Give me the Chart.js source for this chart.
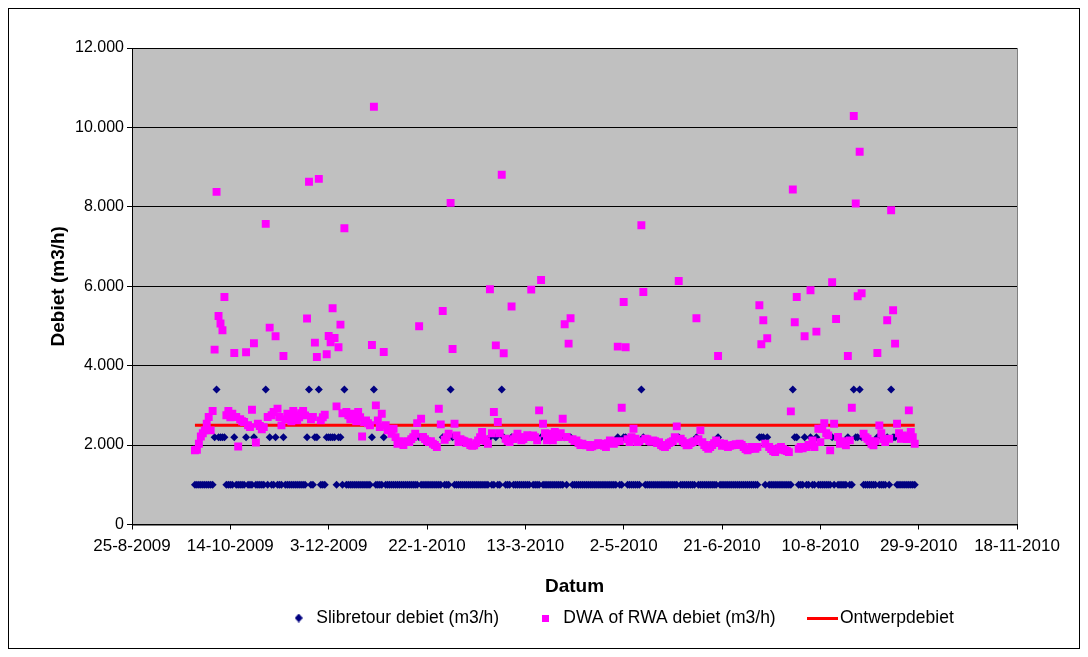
<!DOCTYPE html>
<html>
<head>
<meta charset="utf-8">
<script src="https://cdn.jsdelivr.net/npm/chart.js@4.4.1/dist/chart.umd.min.js"></script>
<style>
  html, body { margin: 0; padding: 0; background: #ffffff; }
  canvas { display: block; }
</style>
</head>
<body>
<canvas id="chart" width="1088" height="657"></canvas>
<script>
// Axis tick labels (dates are d-m-yyyy, values use '.' as thousands separator)
const xTickLabels = ['25-8-2009', '14-10-2009', '3-12-2009', '22-1-2010', '13-3-2010',
                     '2-5-2010', '21-6-2010', '10-8-2010', '29-9-2010', '18-11-2010'];
const yTickLabels = ['0', '2.000', '4.000', '6.000', '8.000', '10.000', '12.000'];

// Daily measurements, one value per day starting at firstDay
const firstDay = '26-9-2009';

const slibretourDebiet = [
  1000, 1000, 1000, 1000, 1000, 1000, 1000, 1000, 1000,
  1000, 2200, 3400, 2200, 2200, 2200, 2200, 1000, 1000, 1000,
  1000, 2200, 1000, 1000, 1000, 1000, 1000, 2200, 1000, 1000,
  1000, 2200, 1000, 1000, 1000, 1000, 1000, 3400, 1000, 2200,
  1000, 1000, 2200, 1000, 1000, 1000, 2200, 1000, 1000, 1000,
  1000, 1000, 1000, 1000, 1000, 1000, 1000, 1000, 2200, 3400,
  1000, 1000, 2200, 2200, 3400, 1000, 1000, 1000, 2200, 2200,
  2200, 2200, 2200, 1000, 2200, 2200, 1000, 3400, 1000, 1000,
  1000, 1000, 1000, 1000, 1000, 1000, 1000, 1000, 1000, 1000,
  1000, 2200, 3400, 1000, 1000, 1000, 1000, 2200, 1000, 1000,
  1000, 1000, 1000, 1000, 1000, 1000, 1000, 1000, 1000, 1000,
  1000, 1000, 1000, 1000, 1000, 2200, 1000, 1000, 1000, 1000,
  1000, 1000, 1000, 1000, 1000, 1000, 1000, 2200, 1000, 1000,
  1000, 3400, 2200, 1000, 1000, 1000, 1000, 1000, 1000, 1000,
  1000, 1000, 1000, 1000, 1000, 1000, 1000, 1000, 1000, 1000,
  1000, 2200, 1000, 1000, 2200, 1000, 1000, 3400, 2200, 1000,
  1000, 1000, 2200, 1000, 1000, 1000, 1000, 1000, 1000, 1000,
  1000, 1000, 2200, 1000, 1000, 1000, 1000, 2200, 1000, 1000,
  1000, 1000, 1000, 1000, 1000, 1000, 1000, 1000, 1000, 2200,
  1000, 2200, 2200, 1000, 1000, 1000, 1000, 1000, 1000, 1000,
  1000, 1000, 1000, 1000, 1000, 1000, 1000, 1000, 1000,
  1000, 1000, 1000, 1000, 1000, 1000, 1000, 2200, 1000, 1000,
  2200, 2200, 1000, 1000, 1000, 1000, 1000, 1000, 1000, 3400,
  2200, 1000, 1000, 1000, 1000, 1000, 1000, 1000, 1000, 1000,
  1000, 1000, 1000, 1000, 1000, 1000, 1000, 1000, 2200, 1000,
  1000, 1000, 1000, 1000, 1000, 1000, 1000, 2200, 1000, 1000,
  1000, 1000, 1000, 1000, 1000, 1000, 1000, 1000, 2200, 1000,
  1000, 1000, 1000, 1000, 1000, 1000, 1000, 1000, 1000, 1000,
  1000, 1000, 1000, 1000, 1000, 1000, 1000, 1000, 1000, 2200,
  2200, 2200, 1000, 2200, 1000, 1000, 1000, 1000, 1000, 1000,
  1000, 1000, 1000, 1000, 1000, 1000, 3400, 2200, 2200, 1000,
  1000, 1000, 2200, 1000, 1000, 2200, 1000, 1000, 2200, 1000,
  1000, 1000, 1000, 1000, 1000, 1000, 2200, 1000, 2200, 1000,
  1000, 1000, 1000, 1000, 2200, 1000, 1000, 3400, 2200, 2200,
  3400, 2200, 1000, 1000, 1000, 1000, 1000, 1000, 1000, 2200,
  1000, 1000, 1000, 1000, 2200, 1000, 3400, 2200, 2200, 1000,
  1000, 1000, 1000, 1000, 1000, 1000, 1000, 1000, 1000
];

const dwaRwaDebiet = [
  1870, 1883, 2034, 2218, 2300, 2370, 2538, 2706, 2370,
  2857, 4404, 8377, 5251, 5060, 4891, 5730, 2750, 2857, 2700,
  2790, 4319, 2706, 1966, 2650, 2600, 2580, 4336, 2500, 2453,
  2891, 4563, 2067, 2538, 2480, 2400, 2453, 7570, 2706, 4959,
  2750, 2832, 4740, 2916, 2706, 2496, 4243, 2650, 2790, 2700,
  2600, 2857, 2750, 2622, 2700, 2800, 2857, 2748, 5186, 8630,
  2650, 2706, 4581, 4218, 8705, 2622, 2700, 2765, 4286, 4748,
  4588, 5445, 4697, 2975, 4462, 5034, 2800, 7462, 2832, 2750,
  2650, 2790, 2700, 2600, 2832, 2700, 2218, 2580, 2622, 2550,
  2500, 4520, 10520, 3000, 2622, 2453, 2790, 4344, 2500, 2370,
  2400, 2286, 2412, 2200, 2034, 2100, 2050, 2000, 2075, 2100,
  2075, 2150, 2200, 2286, 2554, 4992, 2664, 2202, 2150, 2100,
  2075, 2100, 2034, 2000, 1950, 2916, 2521, 5378, 2135, 2200,
  2286, 8100, 4420, 2538, 2244, 2075, 2150, 2118, 2100, 2050,
  2075, 2000, 1980, 1992, 2050, 2118, 2200, 2328, 2150, 2100,
  2034, 5924, 2300, 2832, 4512, 2580, 2300, 8806, 4311, 2160,
  2100, 2075, 5488, 2150, 2200, 2286, 2200, 2118, 2150, 2200,
  2250, 2200, 5916, 2244, 2200, 2118, 2874, 6159, 2538, 2300,
  2118, 2244, 2286, 2118, 2328, 2250, 2200, 2300, 2664, 5042,
  2202, 4555, 5193, 2150, 2100, 2118, 2050, 2000, 2034, 2000,
  1992, 2000, 1950, 1970, 1992, 2000, 2050, 2034, 2000,
  1980, 1950, 2050, 2118, 2100, 2034, 2080, 4480, 2100, 2942,
  5605, 4462, 2150, 2075, 2200, 2412, 2160, 2075, 2100, 7538,
  5857, 2160, 2150, 2100, 2080, 2118, 2100, 2050, 2075, 2000,
  1970, 1950, 2000, 2050, 2075, 2100, 2200, 2471, 6134, 2160,
  2100, 2050, 1992, 2000, 2050, 2075, 2100, 5193, 2150, 2370,
  2075, 2000, 1950, 1908, 1950, 2000, 2050, 2118, 4243, 2050,
  1980, 2034, 1990, 1950, 1980, 1992, 2000, 2020, 2000, 2034,
  2000, 1950, 1900, 1866, 1900, 1950, 1920, 1908, 1950, 5521,
  4538, 5143, 2034, 4689, 1950, 1900, 1850, 1823, 1880, 1920,
  1950, 1900, 1870, 1850, 1823, 2849, 8438, 5093, 5730, 1908,
  1950, 1920, 4740, 1950, 2000, 5899, 2118, 1950, 4858, 2412,
  2075, 2412, 2554, 2300, 2244, 1866, 6101, 2538, 5177, 2202,
  2034, 2100, 2050, 1992, 4243, 2118, 2942, 10286, 8085, 5748,
  9386, 5823, 2286, 2200, 2160, 2100, 2034, 1992, 2100, 4319,
  2496, 2300, 2150, 2075, 5143, 2160, 7916, 5395, 4555, 2538,
  2300, 2160, 2244, 2200, 2150, 2874, 2328, 2200, 2034
];

// Design flow, constant over the measuring period
const ontwerpDates = ['26-9-2009', '27-9-2010'];
const ontwerpDebiet = [2500, 2500];

// Spreadsheet-style day number for a d-m-yyyy string
function daySerial(text) {
  const [d, m, y] = text.split('-').map(Number);
  return Math.round((Date.UTC(y, m - 1, d) - Date.UTC(1899, 11, 30)) / 86400000);
}
function thousands(text) { return Number(text.replace(/\./g, '')); }

const start = daySerial(firstDay);
const slibPoints = slibretourDebiet.map((v, i) => ({ x: start + i, y: v }));
const dwaPoints = dwaRwaDebiet.map((v, i) => ({ x: start + i, y: v }));
const ontwerpPoints = ontwerpDates.map((d, i) => ({ x: daySerial(d), y: ontwerpDebiet[i] }));

const FONT = "'Liberation Sans', Arial, sans-serif";
const LEGEND_FONT_SIZE = 17.5;

// Small legend symbols
function symbol(w, h, paint) {
  const c = document.createElement('canvas');
  c.width = w; c.height = h;
  paint(c.getContext('2d'), w, h);
  return c;
}
const legendSymbols = [
  symbol(8, 9, (g, w, h) => {
    g.fillStyle = '#000080';
    g.beginPath(); g.moveTo(w / 2, 0); g.lineTo(w, h / 2); g.lineTo(w / 2, h); g.lineTo(0, h / 2);
    g.closePath(); g.fill();
  }),
  symbol(7, 7, (g, w, h) => { g.fillStyle = '#FF00FF'; g.fillRect(0, 0, w, h); }),
  symbol(31, 3, (g, w, h) => { g.fillStyle = '#FF0000'; g.fillRect(0, 0, w, h); })
];

const LEGEND_FIRST_BOX = 290;
const LEGEND_TEXT_MIDDLE = 618;

const framePlugin = {
  id: 'frame',
  beforeDraw(chart) {
    const { ctx, chartArea: a } = chart;
    ctx.save();
    ctx.fillStyle = '#ffffff';
    ctx.fillRect(0, 0, chart.width, chart.height);
    ctx.fillStyle = '#C0C0C0';
    ctx.fillRect(a.left, a.top, a.right - a.left, a.bottom - a.top);
    ctx.strokeStyle = '#808080';
    ctx.lineWidth = 1;
    ctx.strokeRect(Math.round(a.left) + 0.5, Math.round(a.top) + 0.5,
                   Math.round(a.right - a.left), Math.round(a.bottom - a.top));
    ctx.strokeStyle = '#000000';
    ctx.strokeRect(8.5, 8.5, chart.width - 17, chart.height - 17);
    ctx.restore();
  },
  afterLayout(chart) {
    const lg = chart.legend;
    if (!lg) return;
    const pad = lg.options.labels.padding;
    lg.left = LEGEND_FIRST_BOX - pad;
    lg.right = chart.width;
    lg.width = lg.right - lg.left;
    const h = lg.height;
    lg.top = LEGEND_TEXT_MIDDLE - pad - LEGEND_FONT_SIZE / 2;
    lg.bottom = lg.top + h;
  }
};

new Chart(document.getElementById('chart'), {
  type: 'scatter',
  data: {
    datasets: [
      {
        label: 'Slibretour debiet (m3/h)',
        data: slibPoints,
        pointStyle: 'rectRot',
        pointRadius: 4,
        backgroundColor: '#000080',
        borderColor: '#000080',
        borderWidth: 0,
        order: 2
      },
      {
        label: 'DWA of RWA debiet (m3/h)',
        data: dwaPoints,
        pointStyle: 'rect',
        pointRadius: 5.6,
        backgroundColor: '#FF00FF',
        borderColor: '#FF00FF',
        borderWidth: 0,
        order: 0
      },
      {
        type: 'line',
        label: 'Ontwerpdebiet',
        data: ontwerpPoints,
        showLine: true,
        borderColor: '#FF0000',
        backgroundColor: '#FF0000',
        borderWidth: 3,
        pointRadius: 0,
        fill: false,
        order: 1
      }
    ]
  },
  options: {
    responsive: false,
    animation: false,
    events: [],
    layout: { padding: { left: 0, right: 71, top: 48, bottom: 10 } },
    scales: {
      x: {
        type: 'linear',
        min: daySerial(xTickLabels[0]),
        max: daySerial(xTickLabels[xTickLabels.length - 1]),
        afterBuildTicks(scale) { scale.ticks = xTickLabels.map(l => ({ value: daySerial(l) })); },
        afterFit(scale) { scale.height = 57; },
        ticks: {
          autoSkip: false, maxRotation: 0, padding: 7,
          color: '#000', font: { family: FONT, size: 17 },
          callback: (v, i) => xTickLabels[i]
        },
        grid: { drawOnChartArea: false, drawTicks: true, tickLength: 5, tickColor: '#000', color: '#000' },
        border: { display: true, color: '#000', width: 1 },
        title: {
          display: true, text: 'Datum', color: '#000',
          font: { family: FONT, size: 19, weight: 'bold' },
          padding: { top: 0, bottom: -17 }
        }
      },
      y: {
        min: 0,
        max: thousands(yTickLabels[yTickLabels.length - 1]),
        afterBuildTicks(scale) { scale.ticks = yTickLabels.map(l => ({ value: thousands(l) })); },
        afterFit(scale) { scale.width = 132; },
        ticks: {
          padding: 3, color: '#000', font: { family: FONT, size: 16 },
          callback: (v, i) => yTickLabels[i]
        },
        grid: { color: '#000', lineWidth: 1, drawTicks: true, tickLength: 5, tickColor: '#000' },
        border: { display: true, color: '#000', width: 1 },
        title: {
          display: true, text: 'Debiet (m3/h)', color: '#000',
          font: { family: FONT, size: 19, weight: 'bold' },
          padding: { top: 47, bottom: 0 }
        }
      }
    },
    plugins: {
      tooltip: { enabled: false },
      legend: {
        display: true,
        position: 'bottom',
        align: 'start',
        labels: {
          usePointStyle: true,
          pointStyleWidth: 17.5,
          padding: 38,
          color: '#000',
          font: { family: FONT, size: LEGEND_FONT_SIZE },
          sort: (a, b) => a.datasetIndex - b.datasetIndex,
          generateLabels(chart) {
            return chart.data.datasets.map((ds, i) => ({
              text: ds.label,
              datasetIndex: i,
              pointStyle: legendSymbols[i],
              fillStyle: 'rgba(0,0,0,0)',
              strokeStyle: 'rgba(0,0,0,0)',
              lineWidth: 0,
              hidden: false,
              fontColor: '#000'
            }));
          }
        }
      }
    }
  },
  plugins: [framePlugin]
});
</script>
</body>
</html>
